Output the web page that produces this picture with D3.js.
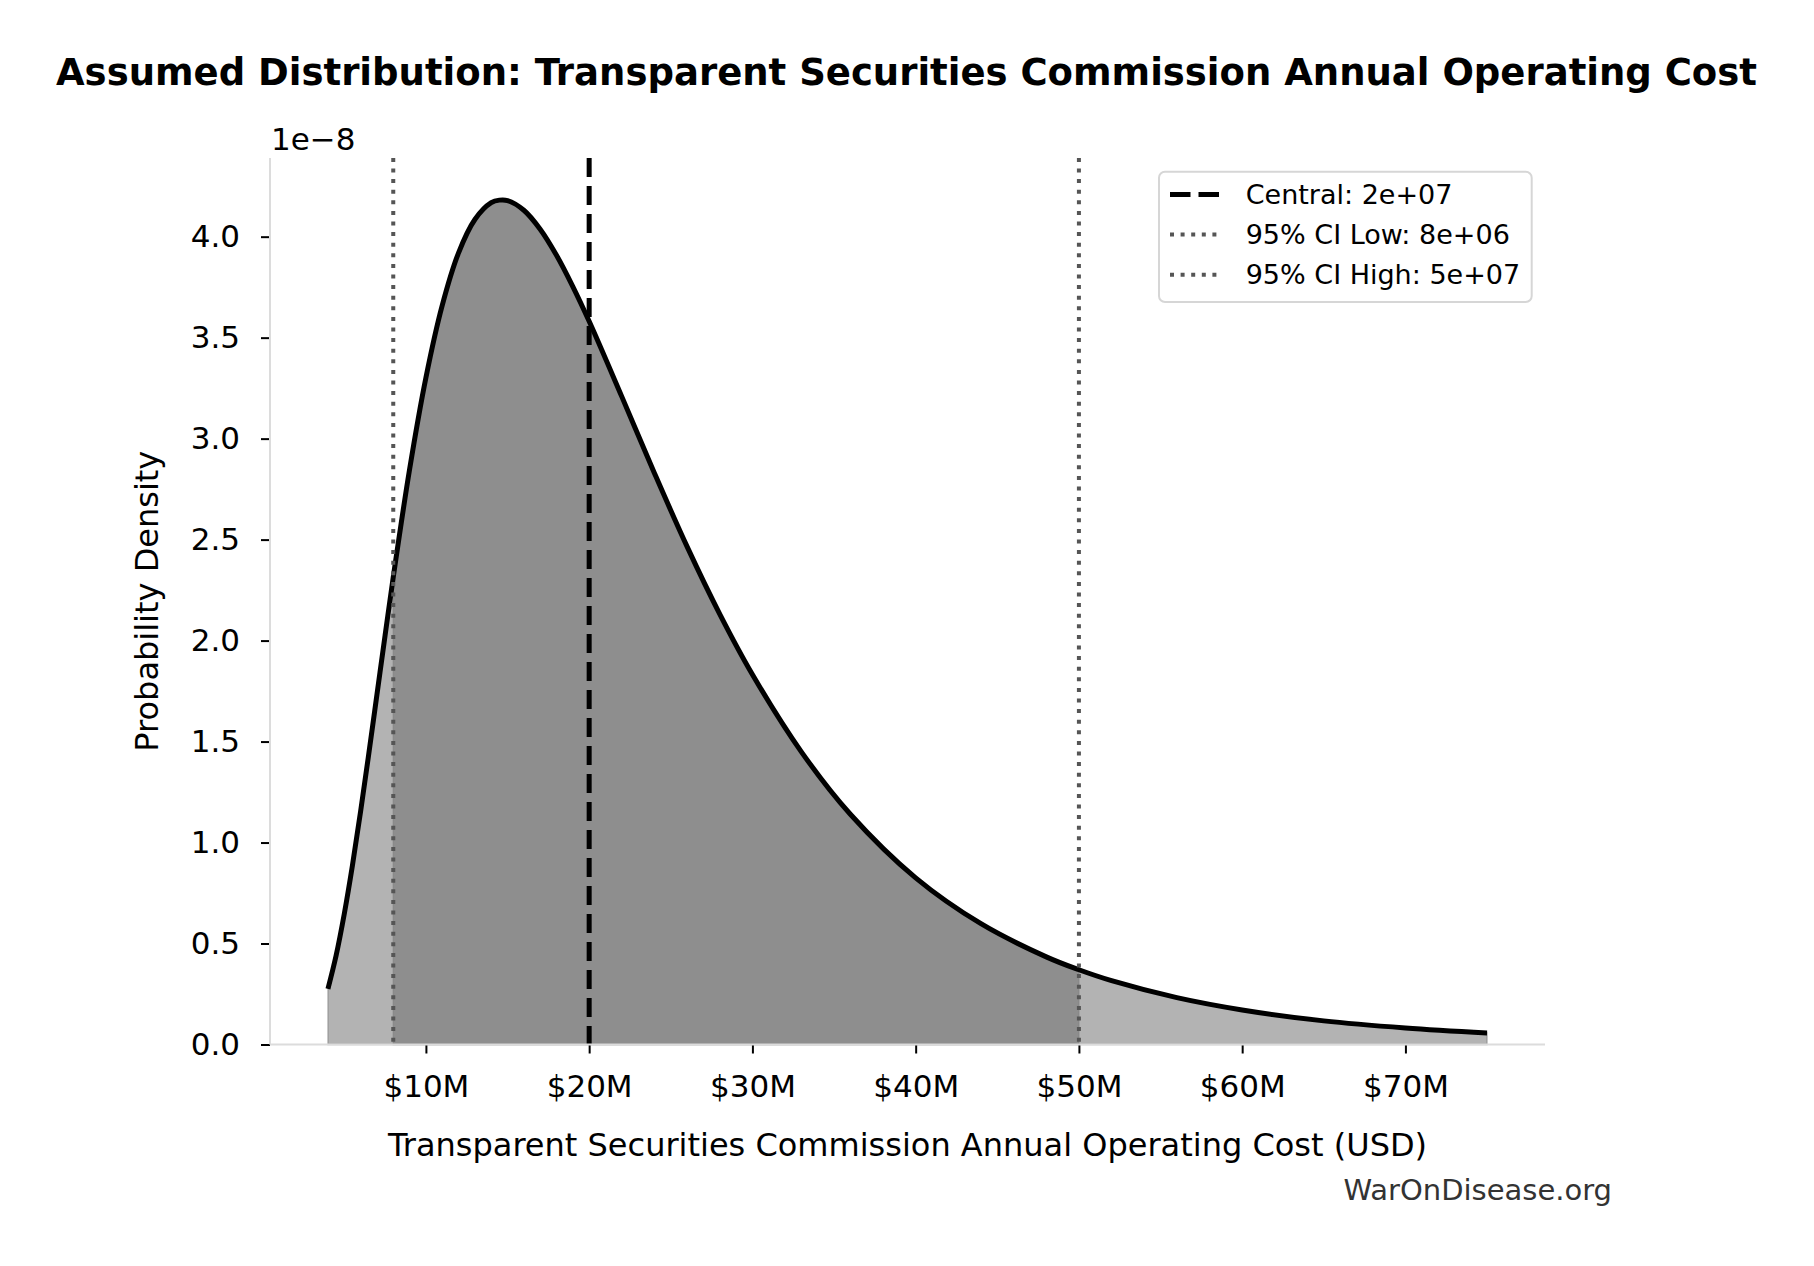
<!DOCTYPE html>
<html>
<head>
<meta charset="utf-8">
<script src="https://cdn.jsdelivr.net/npm/d3@7"></script>
<style>
  body { margin: 0; background: #fff; }
  svg text { font-family: 'DejaVu Sans', sans-serif; }
</style>
</head>
<body>
<div id="chart"></div>
<script>
// cost in $M, density in units of 1e-8
const costM = [4, 4.5, 5, 5.5, 6, 6.5, 7, 7.5, 8, 9, 10, 11, 12, 13, 14, 14.5,
  15, 16, 17, 18, 19, 20, 22, 24, 26, 28, 30, 33, 36, 40, 44, 48, 50, 52, 56,
  60, 65, 70, 75]
const density = [0.276, 0.441, 0.647, 0.887, 1.154, 1.439, 1.732, 2.026, 2.314,
  2.848, 3.302, 3.66, 3.92, 4.085, 4.168, 4.181, 4.179, 4.131, 4.037, 3.908,
  3.753, 3.581, 3.208, 2.829, 2.465, 2.131, 1.832, 1.449, 1.14, 0.825, 0.598,
  0.434, 0.37, 0.316, 0.232, 0.171, 0.117, 0.082, 0.057]

const centralM = 20
const ciLowM = 8
const ciHighM = 50

const xTicks = [10, 20, 30, 40, 50, 60, 70]
const yTicks = [0, 0.5, 1, 1.5, 2, 2.5, 3, 3.5, 4]

const legendLabels = ['Central: 2e+07', '95% CI Low: 8e+06', '95% CI High: 5e+07']

const W = 1814
const H = 1266
const margin = { top: 157.9, left: 270, right: W - 1545, bottom: H - 1044.5 }

const svg = d3
  .select('#chart')
  .append('svg')
  .attr('width', W)
  .attr('height', H)

const data = costM.map((c, i) => ({ x: c, y: density[i] }))

// matplotlib style 5% margins
const xExt = d3.extent(costM)
const xPad = (xExt[1] - xExt[0]) * 0.05
const xScale = d3
  .scaleLinear()
  .domain([xExt[0] - xPad, xExt[1] + xPad])
  .range([margin.left, W - margin.right])

const yScale = d3
  .scaleLinear()
  .domain([0, d3.max(density) * 1.05])
  .range([H - margin.bottom, margin.top])

const area = d3
  .area()
  .x(d => xScale(d.x))
  .y0(yScale(0))
  .y1(d => yScale(d.y))
  .curve(d3.curveCatmullRom.alpha(0.5))

const line = d3
  .line()
  .x(d => xScale(d.x))
  .y(d => yScale(d.y))
  .curve(d3.curveCatmullRom.alpha(0.5))

// fills
svg
  .append('path')
  .datum(data)
  .attr('d', area)
  .attr('fill', '#808080')
  .attr('fill-opacity', 0.6)
  .attr('stroke', '#808080')
  .attr('stroke-opacity', 0.6)
  .attr('stroke-width', 1.3)

svg
  .append('path')
  .datum(data.filter(d => d.x >= ciLowM && d.x <= ciHighM))
  .attr('d', area)
  .attr('fill', '#808080')
  .attr('fill-opacity', 0.72)
  .attr('stroke', '#808080')
  .attr('stroke-opacity', 0.6)
  .attr('stroke-width', 1.3)

// density curve
svg
  .append('path')
  .datum(data)
  .attr('d', line)
  .attr('fill', 'none')
  .attr('stroke', '#000')
  .attr('stroke-width', 5)
  .attr('stroke-linejoin', 'round')

// reference lines
const vlines = [
  { v: centralM, color: '#000', width: 5, dash: '19,9' },
  { v: ciLowM, color: '#555', width: 4, dash: '4,6.6' },
  { v: ciHighM, color: '#555', width: 4, dash: '4,6.6' }
]

svg
  .selectAll('.vline')
  .data(vlines)
  .enter()
  .append('line')
  .attr('class', 'vline')
  .attr('x1', d => xScale(d.v))
  .attr('x2', d => xScale(d.v))
  .attr('y1', margin.top)
  .attr('y2', H - margin.bottom)
  .attr('stroke', d => d.color)
  .attr('stroke-width', d => d.width)
  .attr('stroke-dasharray', d => d.dash)

// axes
const xAxis = d3
  .axisBottom(xScale)
  .tickValues(xTicks)
  .tickSize(9)
  .tickPadding(21)
  .tickFormat(d => '$' + d + 'M')

const yAxis = d3
  .axisLeft(yScale)
  .tickValues(yTicks)
  .tickSize(9)
  .tickPadding(21)
  .tickFormat(d3.format('.1f'))

const gx = svg
  .append('g')
  .attr('transform', 'translate(0,' + (H - margin.bottom) + ')')
  .call(xAxis)

const gy = svg
  .append('g')
  .attr('transform', 'translate(' + margin.left + ',0)')
  .call(yAxis)

;[gx, gy].forEach(g => {
  g.select('.domain').remove()
  g.selectAll('.tick line').attr('stroke', '#000').attr('stroke-width', 2)
  g.selectAll('.tick text')
    .attr('fill', '#000')
    .style('font-size', '31px')
    .style('font-family', 'DejaVu Sans')
})

// spines
svg
  .append('line')
  .attr('x1', margin.left)
  .attr('x2', margin.left)
  .attr('y1', margin.top)
  .attr('y2', H - margin.bottom)
  .attr('stroke', '#dcdcdc')
  .attr('stroke-width', 2)

svg
  .append('line')
  .attr('x1', margin.left)
  .attr('x2', W - margin.right)
  .attr('y1', H - margin.bottom)
  .attr('y2', H - margin.bottom)
  .attr('stroke', '#dcdcdc')
  .attr('stroke-width', 2)

// offset text
svg
  .append('text')
  .attr('x', margin.left + 1)
  .attr('y', 150)
  .style('font-size', '31px')
  .text('1e\u22128')

// title
const axMid = (margin.left + W - margin.right) / 2
svg
  .append('text')
  .attr('x', axMid - 1)
  .attr('y', 85)
  .style('text-anchor', 'middle')
  .style('font-size', '37px')
  .style('font-weight', 'bold')
  .text('Assumed Distribution: Transparent Securities Commission Annual Operating Cost')

// axis labels
svg
  .append('text')
  .attr('x', axMid)
  .attr('y', 1156)
  .style('text-anchor', 'middle')
  .style('font-size', '32px')
  .text('Transparent Securities Commission Annual Operating Cost (USD)')

svg
  .append('text')
  .attr('transform', 'translate(158.3,' + (margin.top + H - margin.bottom) / 2 + ') rotate(-90)')
  .style('text-anchor', 'middle')
  .style('font-size', '32px')
  .text('Probability Density')

// watermark
svg
  .append('text')
  .attr('x', 1612)
  .attr('y', 1200)
  .style('text-anchor', 'end')
  .style('font-size', '29px')
  .style('fill', '#333')
  .text('WarOnDisease.org')

// legend
const legend = svg.append('g').attr('transform', 'translate(1159,171.7)')

legend
  .append('rect')
  .attr('width', 372.7)
  .attr('height', 130.3)
  .attr('rx', 6)
  .attr('fill', '#fff')
  .attr('fill-opacity', 0.8)
  .attr('stroke', '#d6d6d6')
  .attr('stroke-width', 2)

const rows = legend
  .selectAll('.row')
  .data(vlines)
  .enter()
  .append('g')
  .attr('class', 'row')
  .attr('transform', (d, i) => 'translate(0,' + (22.8 + i * 40.1) + ')')

rows
  .append('line')
  .attr('x1', 11)
  .attr('x2', 60)
  .attr('stroke', d => d.color)
  .attr('stroke-width', d => d.width)
  .attr('stroke-dasharray', (d, i) => (i === 0 ? '20.5,8' : '4,6.6'))

rows
  .append('text')
  .attr('x', 86.7)
  .attr('y', 9.5)
  .style('font-size', '27px')
  .text((d, i) => legendLabels[i])
</script>
</body>
</html>
